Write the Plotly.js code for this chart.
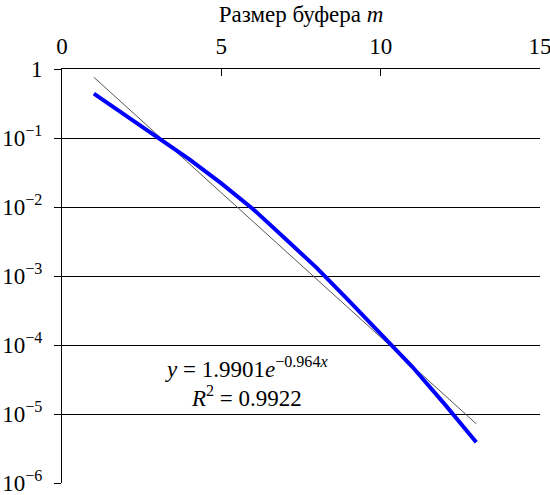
<!DOCTYPE html>
<html>
<head>
<meta charset="utf-8">
<script src="https://cdn.plot.ly/plotly-3.0.1.min.js"></script>
<style>html,body{margin:0;padding:0;background:#fff;}#chart{width:550px;height:495px;}</style>
</head>
<body>
<div id="chart"></div>
<script>
// Buffer size m and measured values (blue curve)
const bufferSize = [1, 2, 3, 4, 5, 6, 7, 8, 9, 10, 11, 12, 13];
const probability = [0.44, 0.21, 0.1, 0.049, 0.022, 0.0093, 0.0035, 0.0013, 0.00044, 0.000145, 0.000048, 0.000014, 0.0000039];
// Exponential trendline end points (y = 1.9901 e^(-0.964x)), straight on a log axis
const trendX = [1, 13];
const trendY = [0.759, 0.0000072];
// Tick labels
const yTickVals = [1, 0.1, 0.01, 0.001, 0.0001, 0.00001, 0.0000010001];
const yTickText = ['1', '10<sup>−1</sup>', '10<sup>−2</sup>', '10<sup>−3</sup>', '10<sup>−4</sup>', '10<sup>−5</sup>', '10<sup>−6</sup>'];
const xTickVals = [0, 5, 10, 15];
const eqLine1 = '<i>y</i> = 1.9901<i>e</i><sup>−0.964<i>x</i></sup>';
const eqLine2 = '<i>R</i><sup>2</sup> = 0.9922';

const font = {family: 'Liberation Serif, Times New Roman, serif', size: 23, color: '#000'};

const data = [
  {x: trendX, y: trendY, type: 'scatter', mode: 'lines', line: {color: '#555', width: 1}, hoverinfo: 'skip'},
  {x: bufferSize, y: probability, type: 'scatter', mode: 'lines', line: {color: '#0000ff', width: 4}}
];

const layout = {
  width: 550, height: 495,
  margin: {l: 62, r: 10, t: 69, b: 12, pad: 0},
  paper_bgcolor: '#fff', plot_bgcolor: '#fff',
  showlegend: false,
  font: font,
  xaxis: {
    side: 'top', range: [0, 15], tickvals: xTickVals, ticks: 'inside', ticklen: 7, tickcolor: '#000',
    showline: true, linecolor: '#000', linewidth: 1, showgrid: false, zeroline: false,
    tickfont: font, ticklabeloverflow: 'allow', ticklabelstandoff: 5,
    title: {text: 'Размер буфера <i>m</i>', font: font, standoff: 4}
  },
  yaxis: {
    type: 'log', range: [-6, 0], tickvals: yTickVals, ticktext: yTickText,
    ticks: 'outside', ticklen: 7, tickcolor: '#000',
    showline: true, linecolor: '#000', linewidth: 1,
    showgrid: true, gridcolor: '#000', gridwidth: 1, zeroline: false,
    tickfont: font, ticklabeloverflow: 'allow', ticklabelstandoff: 7
  },
  annotations: [
    {x: 5.8, y: -4.33, xref: 'x', yref: 'y', text: eqLine1, showarrow: false,
     font: font, xanchor: 'center', yanchor: 'middle'},
    {x: 5.8, y: -4.75, xref: 'x', yref: 'y', text: eqLine2, showarrow: false,
     font: font, xanchor: 'center', yanchor: 'middle'}
  ]
};

Plotly.newPlot('chart', data, layout, {displayModeBar: false, staticPlot: true});
</script>
</body>
</html>
